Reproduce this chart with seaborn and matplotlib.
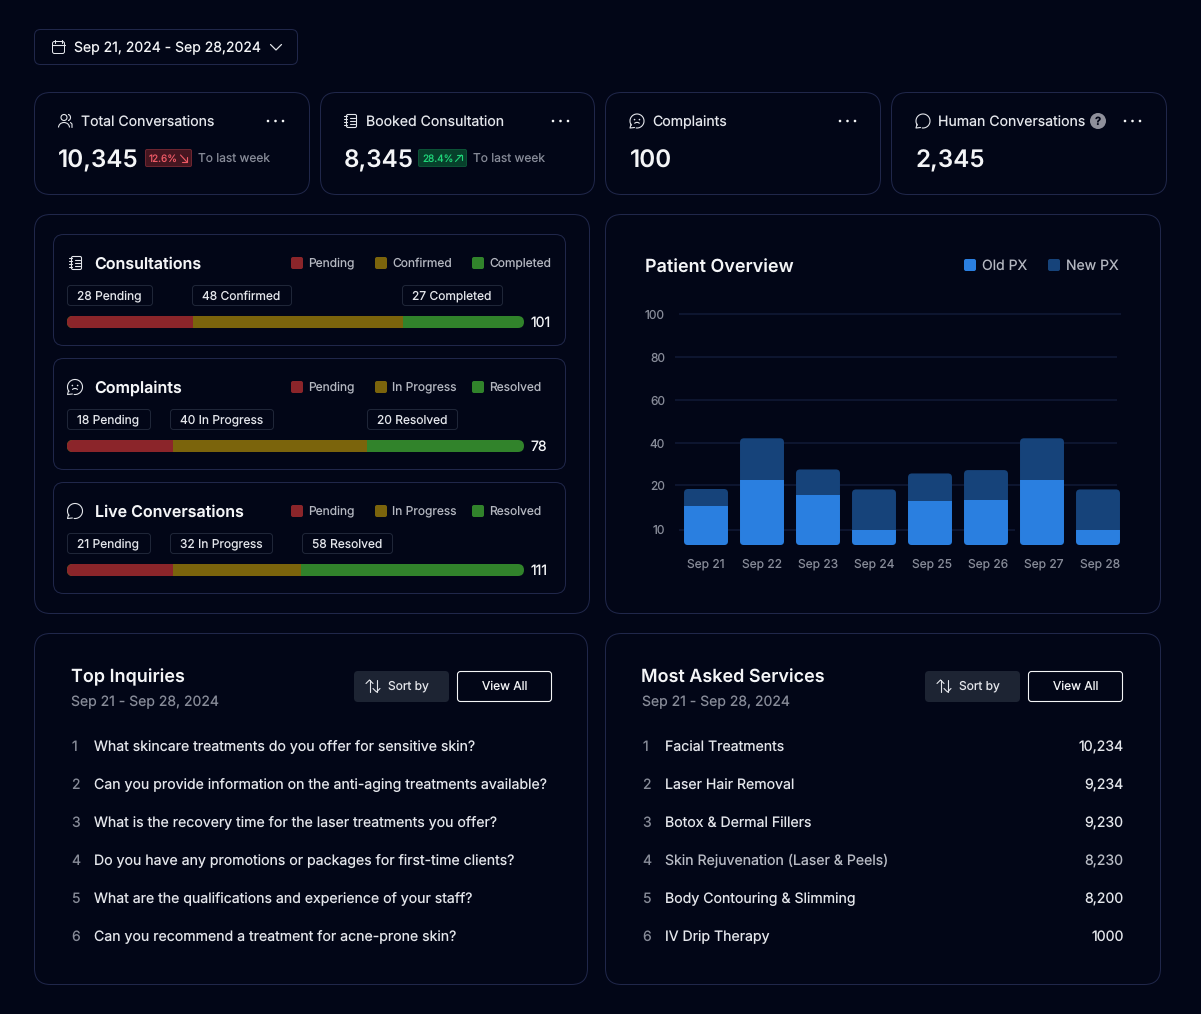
import numpy as np
import pandas as pd
import seaborn as sns
import matplotlib.pyplot as plt
from matplotlib.patches import FancyBboxPatch, Circle, Arc
from matplotlib.transforms import IdentityTransform, ScaledTranslation

W, H = 1201, 1014

# patient overview
days = ["Sep 21", "Sep 22", "Sep 23", "Sep 24", "Sep 25", "Sep 26", "Sep 27", "Sep 28"]
old_px = [15.3, 22.2, 17.7, 10.0, 16.5, 16.7, 22.2, 10.0]
new_px = [3.8, 20.0, 9.7, 9.0, 9.0, 10.4, 20.0, 9.0]
y_ticks = [10, 20, 40, 60, 80, 100]

# progress bars: share of the bar taken by each segment, as drawn
consult_share = [27.6, 46.0, 26.4]
complaint_share = [23.2, 42.4, 34.4]
live_share = [23.2, 28.0, 48.8]
consult_labels = ["28 Pending", "48 Confirmed", "27 Completed"]
complaint_labels = ["18 Pending", "40 In Progress", "20 Resolved"]
live_labels = ["21 Pending", "32 In Progress", "58 Resolved"]
consult_legend = ["Pending", "Confirmed", "Completed"]
status_legend = ["Pending", "In Progress", "Resolved"]
bar_totals = ["101", "78", "111"]

# lists
inquiries = [
    "What skincare treatments do you offer for sensitive skin?",
    "Can you provide information on the anti-aging treatments available?",
    "What is the recovery time for the laser treatments you offer?",
    "Do you have any promotions or packages for first-time clients?",
    "What are the qualifications and experience of your staff?",
    "Can you recommend a treatment for acne-prone skin?",
]
services = [
    "Facial Treatments",
    "Laser Hair Removal",
    "Botox & Dermal Fillers",
    "Skin Rejuvenation (Laser & Peels)",
    "Body Contouring & Slimming",
    "IV Drip Therapy",
]
service_counts = ["10,234", "9,234", "9,230", "8,230", "8,200", "1000"]

BG = "#020617"
BORDER = "#20274a"
CHIP = "#1d2433"
WHITE = "#f4f5f7"
TEXT = "#e4e6eb"
GREY = "#878b98"
RED = "#8b252a"
GOLD = "#7b640c"
GREEN = "#31832b"
BLUE = "#2a7fe0"
NAVY = "#16437a"
GRID = "#0e1630"

sns.set_theme(style="dark")
plt.rcParams["font.family"] = ["Inter", "DejaVu Sans"]
plt.rcParams["text.hinting"] = "no_hinting"
plt.rcParams["text.hinting_factor"] = 1

fig = plt.figure(figsize=(W / 100, H / 100), dpi=100, facecolor=BG)
bg = fig.add_axes([0, 0, 1, 1])
bg.set_xlim(0, W)
bg.set_ylim(H, 0)
bg.axis("off")
renderer = fig.canvas.get_renderer()


def px_axes(x0, y0, x1, y1):
    return fig.add_axes([x0 / W, 1 - y1 / H, (x1 - x0) / W, (y1 - y0) / H], facecolor="none")


def box(x0, y0, x1, y1, r, edge=BORDER, fill="none", lw=1.0):
    # stroke sits on the pixel inside the edge so it stays crisp
    inset = 0 if edge == "none" else 0.5
    bg.add_patch(FancyBboxPatch((x0 + inset, y0 + inset), x1 - x0 - 2 * inset, y1 - y0 - 2 * inset,
                                boxstyle=f"round,pad=0,rounding_size={r}", fc=fill, ec=edge, lw=lw * 0.72))


def txt(x, y, s, size=14, color=TEXT, weight="normal", ha="left"):
    # agg rounds the text origin together with the bitmap box, which makes rows jitter
    # by a pixel, so pick the y that lands every baseline on the same pixel row
    base = round(y + 0.36 * size)
    t = bg.text(x, base, s, fontsize=size * 0.72, color=color, fontweight=weight, ha=ha, va="baseline")
    _, h, d = renderer.get_text_width_height_descent(s, t.get_fontproperties(), False)
    t.set_y(base - d + int(h) - int(h - d))


def line(xs, ys, color=TEXT, lw=1.0):
    bg.plot(xs, ys, color=color, lw=lw * 0.8, solid_capstyle="round", solid_joinstyle="round")


def round_clip(artist, x0, y0, x1, y1, r):
    # clip in display pixels, y flipped
    clip = FancyBboxPatch((x0, H - y1), x1 - x0, y1 - y0, boxstyle=f"round,pad=0,rounding_size={r}",
                          transform=IdentityTransform())
    artist.set_clip_path(clip.get_path(), IdentityTransform())


def dots(x, y):
    for dx in (0, 7.5, 15):
        bg.add_patch(Circle((x + dx, y), 1.3, fc=WHITE, ec="none"))


def notebook_icon(x, y, s=1.0):
    box(x - 5 * s, y - 7 * s, x + 6 * s, y + 7 * s, 1.5, edge=TEXT, lw=1.1)
    for dy in (-3, 0, 3):
        line([x - 1.5 * s, x + 3.5 * s], [y + dy * s] * 2, lw=1)
    for dy in (-5, -2, 1, 4):
        line([x - 7 * s, x - 4 * s], [y + dy * s] * 2, lw=1)


def bubble_icon(x, y, r=7):
    bg.add_patch(Arc((x, y), 2 * r, 2 * r, theta1=140, theta2=100, ec=TEXT, lw=0.8))
    line([x - r * 0.85, x - r, x - r * 0.35], [y + r * 0.45, y + r, y + r * 0.93], lw=1)


def sad_icon(x, y, r=7):
    bubble_icon(x, y, r)
    bg.add_patch(Circle((x - r * 0.35, y - r * 0.2), 0.8, fc=TEXT, ec="none"))
    bg.add_patch(Circle((x + r * 0.35, y - r * 0.2), 0.8, fc=TEXT, ec="none"))
    bg.add_patch(Arc((x, y + r * 0.5), r * 0.8, r * 0.6, theta1=200, theta2=340, ec=TEXT, lw=0.8))


def users_icon(x, y):
    bg.add_patch(Circle((x - 1, y - 3.5), 3, fc="none", ec=TEXT, lw=0.8))
    bg.add_patch(Arc((x - 1, y + 6.5), 11, 10, theta1=180, theta2=360, ec=TEXT, lw=0.8))
    bg.add_patch(Arc((x + 3, y - 3.5), 5, 6, theta1=270, theta2=90, ec=TEXT, lw=0.8))
    line([x + 5.5, x + 7, x + 7], [y + 1.5, y + 3, y + 6.5], lw=1)


def sort_icon(x, y):
    line([x - 3.5, x - 3.5], [y - 6, y + 6])
    line([x - 7, x - 3.5, x], [y - 2.5, y - 6, y - 2.5])
    line([x + 3.5, x + 3.5], [y - 6, y + 6])
    line([x, x + 3.5, x + 7], [y + 2.5, y + 6, y + 2.5])


# date picker
box(34, 29, 298, 65, 6)
box(52, 41, 65, 54, 2, edge=TEXT, lw=1)
line([52, 65], [45, 45])
line([55, 55], [39.5, 42.5])
line([62, 62], [39.5, 42.5])
txt(74, 47, "Sep 21, 2024 - Sep 28,2024", 14, WHITE)
line([270.5, 276, 281.5], [44.5, 50, 44.5], lw=1.1)

# kpi cards
for x0, x1 in [(34, 310), (320, 595), (605, 881), (891, 1167)]:
    box(x0, 92, x1, 195, 16)
users_icon(65, 121)
txt(81, 121, "Total Conversations", 14.1)
dots(268, 121)
txt(58, 158, "10,345", 24.2, WHITE, "semibold")
box(145, 149, 192, 167, 1.5, edge="#6d2530", fill="#451620")
txt(149, 158.5, "12.6%", 10, "#ef5a66")
line([180.5, 186.5], [155, 161.5], color="#ef5a66")
line([182, 186.5, 186.5], [161.5, 161.5, 157], color="#ef5a66")
txt(198, 158, "To last week", 12, GREY)

notebook_icon(351, 121, 1.0)
txt(366.5, 121, "Booked Consultation", 14.1)
dots(553, 121)
txt(344, 158, "8,345", 24.2, WHITE, "semibold")
box(418, 149, 467, 167, 1.5, edge="#0b5236", fill="#07402b")
txt(422, 158.5, "28.4%", 10, "#1fd67a")
line([455.5, 461.5], [161.5, 155], color="#1fd67a")
line([457, 461.5, 461.5], [155, 155, 159.5], color="#1fd67a")
txt(473, 158, "To last week", 12, GREY)

sad_icon(637, 121)
txt(652.5, 121, "Complaints", 14.1)
dots(840, 121)
txt(630, 158, "100", 24.2, WHITE, "semibold")

bubble_icon(923, 121)
txt(938, 121, "Human Conversations", 14.1)
bg.add_patch(Circle((1098, 121), 8, fc="#8f909b", ec="none"))
bg.text(1098, 125, "?", fontsize=8, color=BG, fontweight="bold", ha="center", va="baseline")
dots(1125, 121)
txt(915.5, 158, "2,345", 24.2, WHITE, "semibold")

# big panels
box(34, 214, 590, 614, 16)
box(605, 214, 1161, 614, 16)
box(34, 633, 588, 985, 16)
box(605, 633, 1161, 985, 16)

# status rows
SEG_COLORS = [RED, GOLD, GREEN]
rows = [
    (234, "Consultations", consult_share, consult_labels, consult_legend, bar_totals[0],
     [(67, 153), (192, 292), (402, 503)]),
    (358, "Complaints", complaint_share, complaint_labels, status_legend, bar_totals[1],
     [(67, 151), (170, 274), (367, 458)]),
    (482, "Live Conversations", live_share, live_labels, status_legend, bar_totals[2],
     [(67, 151), (170, 273), (302, 393)]),
]
for top, title, share, labels, legend, total, chips in rows:
    box(53, top, 566, top + 112, 10)
    if title == "Consultations":
        notebook_icon(76, top + 29)
    elif title == "Complaints":
        sad_icon(75, top + 29, 7.5)
    else:
        bubble_icon(75, top + 29, 7.5)
    txt(94.6, top + 29, title, 16, WHITE, "semibold")
    for sq, lab, col in zip([291, 375, 472], legend, SEG_COLORS):
        box(sq, top + 23, sq + 12, top + 35, 2, edge="none", fill=col)
        txt(sq + 17.2, top + 29, lab, 12, "#b4b7c0")
    for (c0, c1), lab in zip(chips, labels):
        box(c0, top + 51, c1, top + 72, 3, edge="#1f2638")
        txt(c0 + 10, top + 62, lab, 12)
    # layered from the full length down so the segments read left to right
    bar_ax = px_axes(67, top + 82, 524, top + 94)
    ends = np.cumsum(share)
    for end, col in zip(ends[::-1], SEG_COLORS[::-1]):
        sns.barplot(x=[end], y=[title], color=col, saturation=1, width=1.0, orient="y",
                    errorbar=None, linewidth=0, ax=bar_ax)
    bar_ax.set_xlim(0, 100)
    bar_ax.axis("off")
    for bar in bar_ax.patches:
        round_clip(bar, 67, top + 82, 524, top + 94, 6)
    txt(530, top + 88, total, 14, WHITE)

# patient overview
txt(645, 265.6, "Patient Overview", 18, WHITE, "semibold")
box(964, 259, 976, 271, 2, edge="none", fill=BLUE)
txt(982, 265, "Old PX", 14, "#b4b7c0")
box(1048, 259, 1060, 271, 2, edge="none", fill=NAVY)
txt(1066, 265, "New PX", 14, "#b4b7c0")

AX_L, AX_R, AX_T, AX_B = 678, 1126, 314, 545
chart = px_axes(AX_L, AX_T, AX_R, AX_B)
# the axis spacing in the picture is uneven: 0-10 short, 10-20 stretched, then even
scale_vals = [0, 10, 20, 40, 60, 80, 100]
scale_pos = [0, 15.5, 60, 102, 145, 188, 231]
chart.set_yscale("function", functions=(lambda v: np.interp(v, scale_vals, scale_pos),
                                        lambda p: np.interp(p, scale_pos, scale_vals)))
df = pd.DataFrame({"day": days, "old": old_px, "new": new_px})
df["total"] = df["old"] + df["new"]
sns.barplot(data=df, x="day", y="total", color=NAVY, saturation=1, width=0.785, errorbar=None, linewidth=0, ax=chart)
sns.barplot(data=df, x="day", y="old", color=BLUE, saturation=1, width=0.785, errorbar=None, linewidth=0, ax=chart)
chart.set_ylim(0, 100)
chart.set_xlim(-0.5, 7.5)
chart.set_yticks(y_ticks)
chart.set_yticklabels([str(t) for t in y_ticks])
chart.minorticks_off()
chart.set_xlabel("")
chart.set_ylabel("")
chart.tick_params(axis="y", colors=GREY, labelsize=12 * 0.72, length=0, pad=9.4)
chart.tick_params(axis="x", colors=GREY, labelsize=12 * 0.72, length=0, pad=10)
chart.grid(False)
for s in chart.spines.values():
    s.set_visible(False)
for t, g0, g1 in zip(y_ticks, [679, 675, 675, 675, 675, 679], [1015, 1117, 1117, 1117, 1117, 1121]):
    chart.hlines(t, (g0 - AX_L) / (AX_R - AX_L), (g1 - AX_L) / (AX_R - AX_L), color=GRID, lw=1.4,
                 transform=chart.get_yaxis_transform(), zorder=0, clip_on=False)
# labels for the last four days sit 2px right of their bars
for lab in chart.get_xticklabels()[4:]:
    lab.set_transform(lab.get_transform() + ScaledTranslation(2 / 100, 0, fig.dpi_scale_trans))

fig.canvas.draw()
n = len(days)
for i, bar in enumerate(chart.patches):
    ext = bar.get_window_extent()
    y0, y1 = H - ext.y1, H - ext.y0
    # bright part keeps a square top where it meets the dark part
    round_clip(bar, ext.x0, y0 - (8 if i >= n else 0), ext.x1, y1, 4)

# bottom lists
for x_title, x_sub, title, sort_x, view_x in [(71, 71, "Top Inquiries", 354, 457),
                                             (641, 642, "Most Asked Services", 925, 1028)]:
    txt(x_title, 676, title, 18, WHITE, "semibold")
    txt(x_sub, 701, "Sep 21 - Sep 28, 2024", 14, GREY)
    box(sort_x, 671, sort_x + 95, 702, 4, edge="none", fill=CHIP)
    sort_icon(sort_x + 19, 686)
    txt(sort_x + 34, 686, "Sort by", 12)
    box(view_x, 671, view_x + 95, 702, 3, edge=WHITE, lw=1.1)
    txt(view_x + 47.5, 686, "View All", 12, WHITE, ha="center")

for i, (q, svc, cnt) in enumerate(zip(inquiries, services, service_counts)):
    y = 746 + 38 * i
    txt(71, y, str(i + 1), 14, GREY)
    txt(94, y, q, 14.12)
    txt(642, y, str(i + 1), 14, GREY)
    txt(665, y, svc, 14.12, "#b9bcc5" if i == 3 else TEXT)
    txt(1123.5, y, cnt, 14.12, "#b9bcc5" if i == 3 else TEXT, ha="right")

fig.savefig("out.png", dpi=100, facecolor=BG)
plt.close()
